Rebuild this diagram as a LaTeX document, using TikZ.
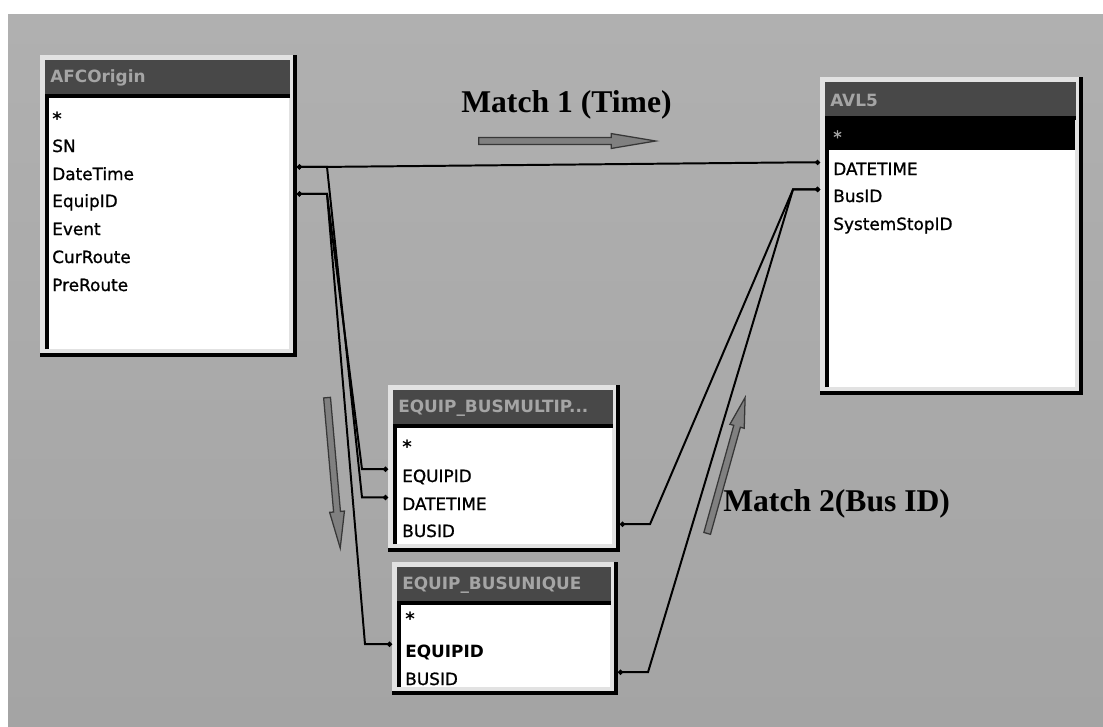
\documentclass[tikz,border=0pt]{standalone}
\usepackage{fontspec}
\setmainfont{DejaVu Sans}
\newfontfamily\fieldfont{DejaVu Sans}[FakeBold=1.0]
\newfontfamily\matchfont{Liberation Serif}
\usepackage{tikz}
\usetikzlibrary{positioning, arrows.meta, shapes.arrows, calc}
\definecolor{BgTop}{RGB}{176,176,176}
\definecolor{BgBottom}{RGB}{164,164,164}
\definecolor{FrameFill}{RGB}{226,226,226}
\definecolor{TitleFill}{RGB}{72,72,72}
\definecolor{TitleText}{RGB}{165,165,165}
\definecolor{ArrowFill}{RGB}{128,128,128}
\definecolor{ArrowLine}{RGB}{55,55,55}

\tikzset{
  field/.style={anchor=base west, inner sep=0pt, font=\fieldfont\fontsize{12}{14}\selectfont},
  keyfield/.style={field, font=\fontsize{12}{14}\selectfont\bfseries},
  starfield/.style={field, font=\fontsize{13}{14}\selectfont\bfseries},
  titletext/.style={anchor=west, inner sep=0pt, text=TitleText, font=\fontsize{12}{14}\selectfont\bfseries},
  rel/.style={draw=black, line width=1.4pt, {Circle[length=3.5pt]}-{Circle[length=3.5pt]}},
  matcharrow/.style={single arrow, draw=ArrowLine, fill=ArrowFill, line width=0.9pt, anchor=tail,
    inner xsep=0pt, inner ysep=0.07cm, single arrow head extend=0.1cm},
  matchlabel/.style={inner sep=0pt, anchor=base west, font=\matchfont\bfseries\fontsize{22.5}{26}\selectfont}
}

% Tabelle: Name, links, oben, rechts, unten, Titel
\newcommand{\dbtable}[6]{%
  \fill[FrameFill] (#2,#3) rectangle (#4,#5);
  \draw[black, line width=3pt] (#4-2,#3) -- (#4-2,#5-2) -- (#2,#5-2);
  \fill[TitleFill] (#2+5,#3+5) rectangle (#4-7,#3+40);
  \fill[white] (#2+7,#3+42) rectangle (#4-8,#5-8);
  \draw[black, line width=2.5pt] (#2+7,#5-8) -- (#2+7,#3+41) -- (#4-7,#3+41);
  \path (#2,#3) coordinate (#1-nw) (#4,#5) coordinate (#1-se);
  \node[titletext] (#1-title) at (#2+10,#3+23) {#6};
}

\begin{document}
\begin{tikzpicture}[x=0.025cm, y=-0.025cm]
  \useasboundingbox (0,0) rectangle (1103,726);
  \fill[white] (0,0) rectangle (1103,726);
  \shade[top color=BgTop, bottom color=BgBottom] (8,14) rectangle (1103,726);

  % Tabellen
  \dbtable{afc}{40}{55}{297}{357}{AFCOrigin}
  \node[starfield] (afc-star) at (52,125) {*};
  \node[field] (afc-sn) at (52,152) {SN};
  \node[field] (afc-date) at (52,180) {DateTime};
  \node[field] (afc-equip) at (52,207) {EquipID};
  \node[field] (afc-event) at (52,235) {Event};
  \node[field] (afc-cur) at (52,263) {CurRoute};
  \node[field] (afc-pre) at (52,291) {PreRoute};

  \dbtable{avl}{820}{77}{1083}{395}{AVL5}
  \fill[black] (828,119) rectangle (1075,150);
  \node[field, text=TitleText] (avl-star) at (833,143) {*};
  \node[field] (avl-date) at (833,175) {DATETIME};
  \node[field] (avl-bus) at (833,202) {BusID};
  \node[field] (avl-stop) at (833,230) {SystemStopID};

  \dbtable{mult}{388}{385}{620}{552}{EQUIP\_BUSMULTIP...}
  \node[starfield] (mult-star) at (402,453) {*};
  \node[field] (mult-equip) at (402,482) {EQUIPID};
  \node[field] (mult-date) at (402,510) {DATETIME};
  \node[field] (mult-bus) at (402,537) {BUSID};

  \dbtable{uniq}{392}{562}{618}{695}{EQUIP\_BUSUNIQUE}
  \node[starfield] (uniq-star) at (405,625) {*};
  \node[keyfield] (uniq-equip) at (405,657) {EQUIPID};
  \node[field] (uniq-bus) at (405,685) {BUSID};

  % Beziehungen
  \draw[rel] (afc-se |- afc-date.north) -- ++(30,0) -- ($(avl-nw |- avl-date.north)+(-27,0)$) -- (avl-nw |- avl-date.north);
  \draw[rel] (afc-se |- afc-date.north) -- ++(30,0) -- ($(mult-nw |- mult-date.north)+(-26,0)$) -- (mult-nw |- mult-date.north);
  \draw[rel] (afc-se |- afc-equip.north) -- ++(30,0) -- ($(mult-nw |- mult-equip.north)+(-26,0)$) -- (mult-nw |- mult-equip.north);
  \draw[rel] (afc-se |- afc-equip.north) -- ++(30,0) -- ($(uniq-nw |- uniq-equip.north)+(-27,0)$) -- (uniq-nw |- uniq-equip.north);
  \draw[rel] (mult-se |- mult-bus.north) -- ++(30,0) -- ($(avl-nw |- avl-bus.north)+(-27,0)$) -- (avl-nw |- avl-bus.north);
  \draw[rel] (uniq-se |- uniq-bus.north) -- ++(30,0) -- ($(avl-nw |- avl-bus.north)+(-27,0)$) -- (avl-nw |- avl-bus.north);

  % Pfeile und Beschriftungen
  \node[matcharrow, minimum height=4.425cm, single arrow tip angle=19] (arrTime) at (478,141) {};
  \node[matcharrow, minimum height=3.525cm, single arrow tip angle=28, rotate=74.4] (arrBus) at (707,534) {};
  \node[matcharrow, minimum height=3.775cm, single arrow tip angle=23, rotate=-85] (arrDown) at (327,397) {};
  \node[matchlabel] (lblTime) at (461,112) {Match 1 (Time)};
  \node[matchlabel] (lblBus) at (723,511) {Match 2(Bus ID)};
\end{tikzpicture}
\end{document}
